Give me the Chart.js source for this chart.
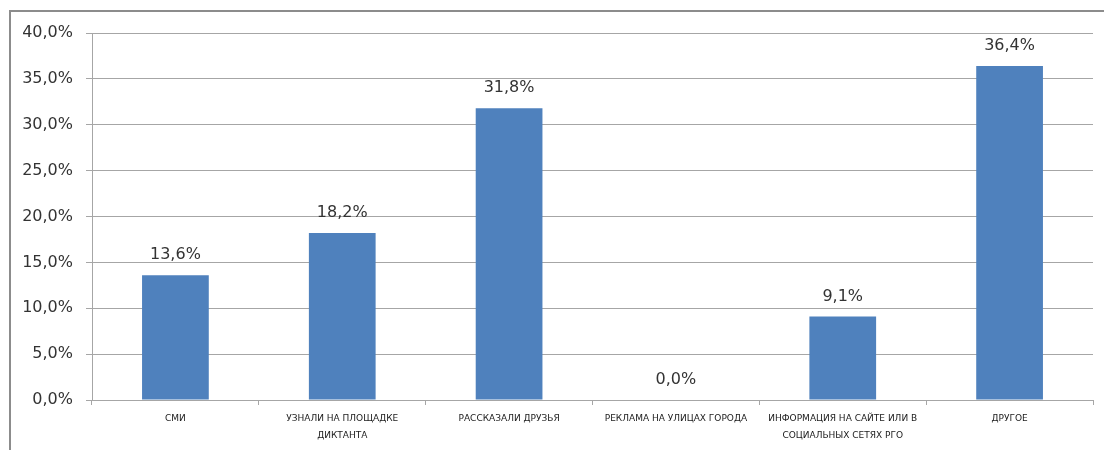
<!DOCTYPE html>
<html lang="ru">
  <head>
    <meta charset="utf-8" />
    <script src="https://cdn.jsdelivr.net/npm/chart.js"></script>
    <style>
      html, body { margin: 0; padding: 0; background: #fff; }
      #frame {
        position: absolute; left: 9px; top: 10px; width: 1100px; height: 450px;
        border-left: 2px solid #8c8c8c; border-top: 2px solid #8c8c8c;
      }
      #wrap { position: absolute; left: 0; top: 0; width: 1104px; height: 450px; }
    </style>
  </head>
  <body>
    <div id="frame"></div>
    <div id="wrap"><canvas id="myChart" width="1104" height="450"></canvas></div>
    <script>
      const categories = [
        ["СМИ"],
        ["УЗНАЛИ НА ПЛОЩАДКЕ", "ДИКТАНТА"],
        ["РАССКАЗАЛИ ДРУЗЬЯ"],
        ["РЕКЛАМА НА УЛИЦАХ ГОРОДА"],
        ["ИНФОРМАЦИЯ НА САЙТЕ ИЛИ В", "СОЦИАЛЬНЫХ СЕТЯХ РГО"],
        ["ДРУГОЕ"],
      ];
      const shares = [13.6, 18.2, 31.8, 0.0, 9.1, 36.4];
      const yTicks = { min: 0, max: 40, step: 5 };

      const fmt = (v) => v.toFixed(1).replace(".", ",") + "%";
      const gridColor = "#a6a6a6";

      const barLabels = {
        id: "bar-labels",
        afterDatasetsDraw(chart) {
          const ctx = chart.ctx;
          ctx.save();
          ctx.font = "16px 'DejaVu Sans'";
          ctx.fillStyle = "#333";
          ctx.textAlign = "center";
          ctx.textBaseline = "middle";
          chart.getDatasetMeta(0).data.forEach((bar, i) => {
            ctx.fillText(fmt(shares[i]), bar.x, bar.y - 20);
          });
          ctx.restore();
        },
      };

      new Chart(document.getElementById("myChart"), {
        type: "bar",
        data: {
          labels: categories,
          datasets: [
            {
              data: shares,
              backgroundColor: "#4f81bd",
              borderWidth: 0,
              categoryPercentage: 1,
              barPercentage: 0.4,
            },
          ],
        },
        options: {
          responsive: false,
          animation: false,
          layout: { padding: { top: 33, right: 11, left: 0, bottom: 0 } },
          plugins: { legend: { display: false }, tooltip: { enabled: false } },
          scales: {
            x: {
              grid: { drawOnChartArea: false, drawTicks: true, tickLength: 5, color: gridColor },
              border: { color: gridColor, width: 1 },
              ticks: {
                color: "#1a1a1a",
                font: { family: "'DejaVu Sans'", size: 9, lineHeight: 1.8 },
                padding: 6,
                maxRotation: 0,
                autoSkip: false,
              },
              afterFit(scale) { scale.height = 50; },
            },
            y: {
              min: yTicks.min,
              max: yTicks.max,
              grid: { color: gridColor, tickLength: 6 },
              border: { color: gridColor, width: 1 },
              ticks: {
                stepSize: yTicks.step,
                color: "#333",
                font: { family: "'DejaVu Sans'", size: 16 },
                padding: 13,
                callback: (v) => fmt(v),
              },
              afterFit(scale) { scale.width = 92; },
            },
          },
        },
        plugins: [barLabels],
      });
    </script>
  </body>
</html>
